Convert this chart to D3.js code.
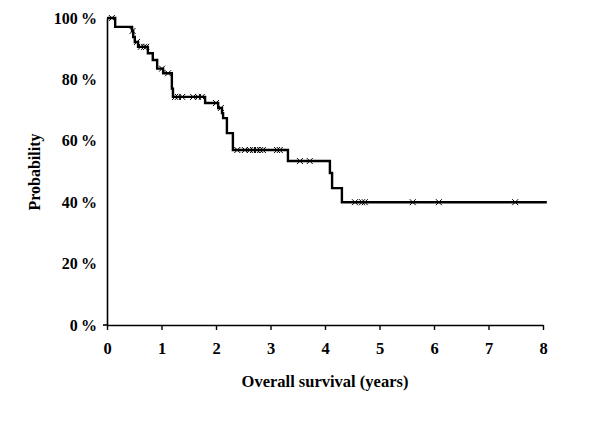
<!DOCTYPE html>
<html>
<head>
<meta charset="utf-8">
<script src="https://cdn.jsdelivr.net/npm/d3@7"></script>
<style>
  html, body { margin: 0; padding: 0; background: #fff; }
  svg { display: block; }
  text { font-family: "Liberation Serif", "Times New Roman", serif; font-weight: bold; fill: #000; }
</style>
</head>
<body>
<svg id="chart" width="600" height="424"></svg>
<script>
// Kaplan-Meier step curve: event times (years) and survival after each event (%)
const eventTimes = [0.15, 0.46, 0.48, 0.51, 0.57, 0.75, 0.84, 0.92, 1.03, 1.19, 1.21, 1.80, 2.04, 2.11, 2.13, 2.20, 2.31, 3.32, 4.09, 4.13, 4.31];
const survival   = [97.1, 95.8, 93.8, 92.2, 90.6, 88.5, 86.3, 83.5, 82.0, 77.0, 74.3, 72.3, 70.7, 69.0, 67.4, 62.5, 57.0, 53.4, 49.5, 44.6, 40.0];
// censored observation times (years)
const censorTimes = [0.09, 0.47, 0.55, 0.62, 0.68, 0.72, 1.01, 1.12, 1.25, 1.30, 1.38, 1.58, 1.67, 1.74, 2.00, 2.09,
                     2.39, 2.53, 2.62, 2.68, 2.75, 2.81, 2.86, 3.12, 3.17, 3.54, 3.72, 4.55, 4.68, 4.73, 5.61, 6.09, 7.49];
const followUpEnd = 8.07;
const xTicks = [0, 1, 2, 3, 4, 5, 6, 7, 8];
const yTicks = [0, 20, 40, 60, 80, 100];
const xTitle = "Overall survival (years)";
const yTitle = "Probability";

const svg = d3.select("#chart");
const x = d3.scaleLinear().domain([0, 8]).range([107, 543]);
const y = d3.scaleLinear().domain([0, 100]).range([325, 18]);

// build step points
const pts = [[0, 100]];
let cur = 100;
eventTimes.forEach((t, i) => { pts.push([t, cur]); cur = survival[i]; pts.push([t, cur]); });
pts.push([followUpEnd, cur]);

function survAt(t) {
  let s = 100;
  eventTimes.forEach((e, i) => { if (e <= t) s = survival[i]; });
  return s;
}

// axes
const xAxis = d3.axisBottom(x).tickValues(xTicks).tickSize(5).tickSizeOuter(0).tickPadding(12).tickFormat(d3.format("d"));
const gx = svg.append("g").attr("transform", `translate(0,${y(0)})`).call(xAxis);
gx.select(".domain").attr("stroke", "#000").attr("stroke-width", 1.6);
gx.selectAll(".tick line").attr("stroke", "#000").attr("stroke-width", 1.4);
gx.selectAll(".tick text").style("font-size", "16.5px").attr("font-family", "Liberation Serif").attr("font-weight", "bold");

const yAxis = d3.axisLeft(y).tickValues(yTicks).tickSize(0).tickSizeOuter(0).tickPadding(10).tickFormat(d => d + "\u2009%");
const gy = svg.append("g").attr("transform", `translate(${x(0)},0)`).call(yAxis);
gy.select(".domain").attr("stroke", "#000").attr("stroke-width", 1.6);
gy.selectAll(".tick text").style("font-size", "16px").attr("font-family", "Liberation Serif").attr("font-weight", "bold");
// small outer tick at the origin
svg.append("line").attr("x1", x(0) - 4).attr("x2", x(0)).attr("y1", y(0)).attr("y2", y(0))
  .attr("stroke", "#000").attr("stroke-width", 1.6);

// curve
const line = d3.line().x(d => x(d[0])).y(d => y(d[1]));
svg.append("path").datum(pts).attr("d", line)
  .attr("fill", "none").attr("stroke", "#000").attr("stroke-width", 2.4).attr("stroke-linejoin", "miter");

// censor marks
svg.append("g").selectAll("path").data(censorTimes).join("path")
  .attr("transform", d => `translate(${x(d)},${y(survAt(d))})`)
  .attr("d", "M-3,-3L3,3M-3,3L3,-3")
  .attr("stroke", "#000").attr("stroke-width", 1).attr("fill", "none");

// titles
svg.append("text").attr("x", 325).attr("y", 387).attr("text-anchor", "middle")
  .style("font-size", "16.5px").text(xTitle);
svg.append("text").attr("transform", "translate(40,172) rotate(-90)").attr("text-anchor", "middle")
  .style("font-size", "16px").text(yTitle);
</script>
</body>
</html>
